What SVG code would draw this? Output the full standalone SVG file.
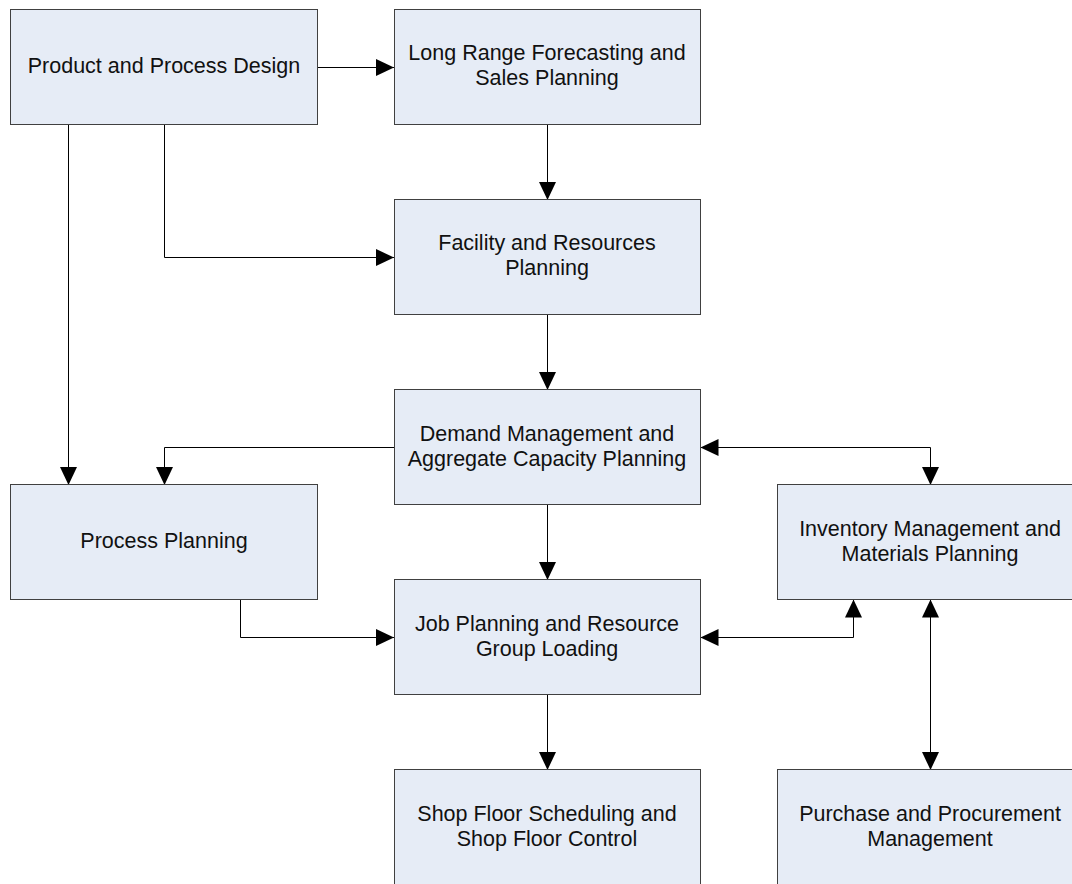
<svg xmlns="http://www.w3.org/2000/svg" width="1072" height="884" viewBox="0 0 1072 884">
  <style>
    .box { fill: #E6ECF6; stroke: #404040; stroke-width: 1; }
    .lbl { font-family: "Liberation Sans", Arial, sans-serif; font-size: 21.5px; fill: #111; text-anchor: middle; }
    .wire { fill: none; stroke: #000; stroke-width: 1; }
  </style>
  <defs>
    <marker id="arrow" markerUnits="userSpaceOnUse" markerWidth="18" markerHeight="17" refX="18" refY="8.5" orient="auto-start-reverse">
      <path d="M0,0 L18,8.5 L0,17 z" fill="#000"/>
    </marker>
  </defs>
  <rect width="1072" height="884" fill="#fff"/>

  <g id="connectors">
    <path class="wire" d="M317.5,67.5 H394" marker-end="url(#arrow)"/>
    <path class="wire" d="M68.5,124.5 V485" marker-end="url(#arrow)"/>
    <path class="wire" d="M164.5,124.5 V257.5 H394" marker-end="url(#arrow)"/>
    <path class="wire" d="M547.5,124.5 V200" marker-end="url(#arrow)"/>
    <path class="wire" d="M547.5,314.5 V390" marker-end="url(#arrow)"/>
    <path class="wire" d="M394.5,447.5 H164.5 V485" marker-end="url(#arrow)"/>
    <path class="wire" d="M700.5,447.5 H930.5 V485" marker-start="url(#arrow)" marker-end="url(#arrow)"/>
    <path class="wire" d="M547.5,504.5 V580" marker-end="url(#arrow)"/>
    <path class="wire" d="M240.5,599.5 V637.5 H394" marker-end="url(#arrow)"/>
    <path class="wire" d="M700.5,637.5 H853.5 V599.5" marker-start="url(#arrow)" marker-end="url(#arrow)"/>
    <path class="wire" d="M930.5,599.5 V770" marker-start="url(#arrow)" marker-end="url(#arrow)"/>
    <path class="wire" d="M547.5,694.5 V770" marker-end="url(#arrow)"/>
  </g>

  <g id="product-process-design">
    <rect class="box" x="10.5" y="9.5" width="307" height="115"/>
    <text class="lbl" x="164" y="73">Product and Process Design</text>
  </g>
  <g id="long-range-forecasting">
    <rect class="box" x="394.5" y="9.5" width="306" height="115"/>
    <text class="lbl" x="547" y="60">Long Range Forecasting and</text>
    <text class="lbl" x="547" y="85">Sales Planning</text>
  </g>
  <g id="facility-resources">
    <rect class="box" x="394.5" y="199.5" width="306" height="115"/>
    <text class="lbl" x="547" y="250">Facility and Resources</text>
    <text class="lbl" x="547" y="275">Planning</text>
  </g>
  <g id="demand-management">
    <rect class="box" x="394.5" y="389.5" width="306" height="115"/>
    <text class="lbl" x="547" y="441">Demand Management and</text>
    <text class="lbl" x="547" y="466">Aggregate Capacity Planning</text>
  </g>
  <g id="process-planning">
    <rect class="box" x="10.5" y="484.5" width="307" height="115"/>
    <text class="lbl" x="164" y="548">Process Planning</text>
  </g>
  <g id="inventory-management">
    <rect class="box" x="777.5" y="484.5" width="306" height="115"/>
    <text class="lbl" x="930" y="536">Inventory Management and</text>
    <text class="lbl" x="930" y="561">Materials Planning</text>
  </g>
  <g id="job-planning">
    <rect class="box" x="394.5" y="579.5" width="306" height="115"/>
    <text class="lbl" x="547" y="631">Job Planning and Resource</text>
    <text class="lbl" x="547" y="656">Group Loading</text>
  </g>
  <g id="shop-floor">
    <rect class="box" x="394.5" y="769.5" width="306" height="115"/>
    <text class="lbl" x="547" y="821">Shop Floor Scheduling and</text>
    <text class="lbl" x="547" y="846">Shop Floor Control</text>
  </g>
  <g id="purchase-procurement">
    <rect class="box" x="777.5" y="769.5" width="306" height="115"/>
    <text class="lbl" x="930" y="821">Purchase and Procurement</text>
    <text class="lbl" x="930" y="846">Management</text>
  </g>
</svg>
